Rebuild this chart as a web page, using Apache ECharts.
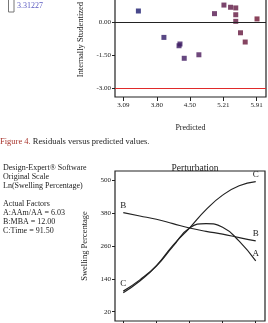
<!DOCTYPE html>
<html>
<head>
<meta charset="utf-8">
<script src="https://cdn.jsdelivr.net/npm/echarts@6/dist/echarts.min.js"></script>
<style>
  html, body { margin: 0; padding: 0; background: #fff; }
  #main { width: 268px; height: 323px; }
</style>
</head>
<body>
<div id="main"></div>
<script>
// 残差图数据
var predicted = [3.41, 3.95, 4.29, 4.27, 4.38, 4.69, 5.02, 5.22, 5.36, 5.47, 5.47, 5.47, 5.57, 5.67, 5.92];
var residuals = [0.50, -0.70, -1.00, -1.08, -1.65, -1.49, 0.38, 0.77, 0.67, 0.64, 0.33, 0.03, -0.49, -0.91, 0.14];
var predTicks = [3.09, 3.80, 4.50, 5.21, 5.91];
var residTicks = [-3, -1.5, 0, 1.5, 3];

// 扰动图数据
var deviation = [-1, -0.75, -0.5, -0.25, 0, 0.25, 0.5, 0.75, 1];
var factorA = [89, 132, 186, 258, 325, 341, 328, 277, 205];
var factorB = [381, 369, 357, 341, 325, 313, 303, 290, 278];
var factorC = [95, 136, 188, 262, 325, 392, 445, 479, 494];
var swellTicks = [20, 140, 260, 380, 500];
var devTicks = [-1, -0.5, 0, 0.5, 1];

var serif = 'Liberation Serif';
var ink = '#222';

var myChart = echarts.init(document.getElementById('main'), null, { renderer: 'canvas' });

function pairs(xs, ys) {
    return xs.map(function (x, i) { return [x, ys[i]]; });
}

function endLabels(name, idx) {
    return function (p) { return idx.indexOf(p.dataIndex) >= 0 ? name : ''; };
}

function curve(name, ys, idx) {
    return {
        name: name,
        type: 'line',
        xAxisIndex: 1,
        yAxisIndex: 1,
        data: pairs(deviation, ys),
        smooth: true,
        symbol: 'circle',
        symbolSize: 1,
        showSymbol: true,
        itemStyle: { color: 'rgba(0,0,0,0)' },
        lineStyle: { color: ink, width: 1.2 },
        label: {
            show: true,
            position: 'top',
            distance: 2,
            fontFamily: serif,
            fontSize: 9,
            color: ink,
            formatter: endLabels(name, idx)
        },
        silent: true
    };
}

var noLine = { show: false, onZero: false };

var option = {
    animation: false,
    backgroundColor: '#fff',
    textStyle: { fontFamily: serif },
    title: {
        text: 'Perturbation',
        left: 190,
        top: 158,
        textAlign: 'center',
        textStyle: { fontFamily: serif, fontSize: 9.5, fontWeight: 'normal', color: ink }
    },
    grid: [
        { left: 115, right: 2, top: -53, height: 150, show: true, borderColor: ink, borderWidth: 1.2, outerBoundsMode: 'none', containLabel: false },
        { left: 115, right: 3, top: 171, height: 150, show: true, borderColor: ink, borderWidth: 1.2, outerBoundsMode: 'none', containLabel: false }
    ],
    visualMap: {
        show: false,
        dimension: 0,
        seriesIndex: 0,
        min: 3.4,
        max: 5.9,
        inRange: { color: ['#1a1a6e', '#4a1a5c', '#6e1432'] }
    },
    xAxis: [
        {
            type: 'value', gridIndex: 0, min: 2.915, max: 6.11,
            name: 'Predicted', nameLocation: 'middle', nameGap: 27,
            nameTextStyle: { fontFamily: serif, fontSize: 8, color: ink },
            splitLine: { show: false },
            axisLine: noLine,
            axisTick: { show: true, inside: false, length: 4, customValues: predTicks, lineStyle: { color: ink } },
            axisLabel: {
                customValues: predTicks, fontFamily: serif, fontSize: 7, color: ink, margin: 5,
                formatter: function (v) { return v.toFixed(2); }
            }
        },
        {
            type: 'value', gridIndex: 1, min: -1.125, max: 1.14,
            splitLine: { show: false },
            axisLine: noLine,
            axisTick: { show: true, inside: false, length: 4, customValues: devTicks, lineStyle: { color: ink } },
            axisLabel: { show: false }
        }
    ],
    yAxis: [
        {
            type: 'value', gridIndex: 0, min: -3.41, max: 3.41,
            name: 'Internally Studentized Residuals', nameLocation: 'middle', nameGap: 24,
            nameTextStyle: { fontFamily: serif, fontSize: 8.5, color: ink },
            splitLine: { show: false },
            axisLine: noLine,
            axisTick: { show: true, inside: false, length: 3, customValues: residTicks, lineStyle: { color: ink } },
            axisLabel: {
                customValues: residTicks, fontFamily: serif, fontSize: 7, color: ink, margin: 4,
                formatter: function (v) { return v.toFixed(2); }
            }
        },
        {
            type: 'value', gridIndex: 1, min: -14, max: 533,
            name: 'Swelling Percentage', nameLocation: 'middle', nameGap: 25,
            nameTextStyle: { fontFamily: serif, fontSize: 8.5, color: ink },
            splitLine: { show: false },
            axisLine: noLine,
            axisTick: { show: true, inside: false, length: 3, customValues: swellTicks, lineStyle: { color: ink } },
            axisLabel: { customValues: swellTicks, fontFamily: serif, fontSize: 7, color: ink, margin: 4 }
        }
    ],
    series: [
        {
            name: 'Residuals',
            type: 'scatter',
            xAxisIndex: 0,
            yAxisIndex: 0,
            data: pairs(predicted, residuals),
            symbol: 'rect',
            symbolSize: 5,
            silent: true,
            markLine: {
                silent: true,
                symbol: 'none',
                label: { show: false },
                data: [
                    { yAxis: 0, lineStyle: { color: ink, width: 1.2, type: 'solid' } },
                    { yAxis: -3, lineStyle: { color: '#e02a2a', width: 1.2, type: 'solid' } },
                    { yAxis: 3, lineStyle: { color: '#e02a2a', width: 1.2, type: 'solid' } }
                ]
            }
        },
        curve('A', factorA, [8]),
        curve('B', factorB, [0, 8]),
        curve('C', factorC, [0, 8])
    ],
    graphic: [
        { type: 'rect', shape: { x: 8.5, y: -5, width: 5.5, height: 17 }, style: { fill: '#fff', stroke: '#777', lineWidth: 1 } },
        { type: 'text', left: 17, top: 2, style: { text: '3.31227', font: '8px "Liberation Serif"', fill: '#5a5ac0' } },
        {
            type: 'text', left: 0, top: 137,
            style: {
                text: '{r|Figure 4.} Residuals versus predicted values.',
                font: '8.5px "Liberation Serif"',
                fill: ink,
                rich: { r: { fill: '#a8342c', font: '8.5px "Liberation Serif"' } }
            }
        },
        {
            type: 'text', left: 3, top: 163,
            style: {
                text: 'Design-Expert\u00AE Software\nOriginal Scale\nLn(Swelling Percentage)\n\nActual Factors\nA:AAm/AA = 6.03\nB:MBA = 12.00\nC:Time = 91.50',
                font: '8px "Liberation Serif"',
                lineHeight: 9,
                fill: ink
            }
        }
    ]
};

myChart.setOption(option);
</script>
</body>
</html>
